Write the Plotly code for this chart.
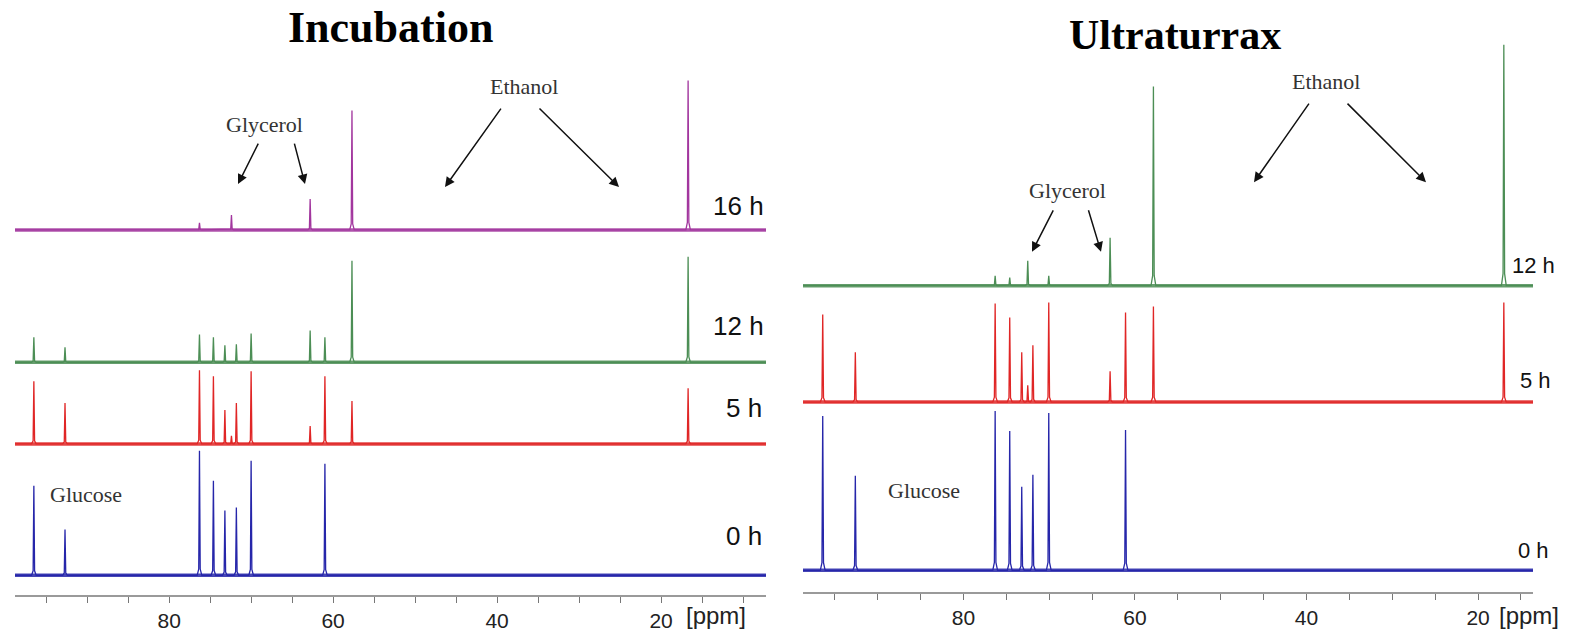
import plotly.graph_objects as go

# ---------------- data ----------------
# chemical shifts of the resolved peaks, ppm
left_ppm = [96.5, 92.7, 76.3, 74.6, 73.2, 72.4, 71.8, 70.0, 62.8, 61.0, 57.7, 16.7]
right_ppm = [96.4, 92.6, 76.3, 74.6, 73.2, 72.5, 71.9, 70.05, 62.9, 61.1, 57.85, 17.0]

# peak heights (arbitrary intensity units) for each spectrum
inc_0h = [90, 46, 125, 95, 65, 0, 68, 115, 0, 112, 0, 0]
inc_5h = [63, 41, 74, 68, 34, 8, 41, 73, 18, 68, 43, 56]
inc_12h = [25, 15, 28, 25, 17, 0, 18, 29, 32, 25, 102, 106]
inc_16h = [0, 0, 7, 0, 0, 15, 0, 0, 31, 0, 120, 150]

ult_0h = [155, 95, 160, 140, 84, 0, 96, 158, 0, 141, 0, 0]
ult_5h = [88, 50, 99, 85, 50, 17, 57, 100, 31, 90, 96, 100]
ult_12h = [0, 0, 10, 8, 0, 25, 0, 10, 48, 0, 200, 242]

time_labels_left = ["0 h", "5 h", "12 h", "16 h"]
time_labels_right = ["0 h", "5 h", "12 h"]
tick_values = [80, 60, 40, 20]
tick_labels = ["80", "60", "40", "20"]

# ---------------- styling / layout constants ----------------
W, H = 1575, 632
COL = {"0 h": "#2626aa", "5 h": "#e02626", "12 h": "#4c8e55", "16 h": "#a2369e"}
left_offsets = {"0 h": 20, "5 h": 152, "12 h": 234, "16 h": 367}
right_offsets = {"0 h": 22, "5 h": 191, "12 h": 308}
left_range = [98.8, 7.2]
right_range = [98.7, 13.6]
# spike drawing style: (ppm offset, fraction of peak height)
SPIKE_SHAPE = [(0.28, 0.0), (0.09, 0.05), (0.0, 1.0), (-0.09, 0.05), (-0.28, 0.0)]


def spectrum(ppm, heights, base, xr):
    pk = sorted([(p, h) for p, h in zip(ppm, heights) if h > 0], reverse=True)
    xs, ys = [xr[0]], [base]
    for p, h in pk:
        for dx, f in SPIKE_SHAPE:
            xs.append(p + dx)
            ys.append(base + f * h)
    xs.append(xr[1])
    ys.append(base)
    return xs, ys


fig = go.Figure()

left_sets = {"0 h": inc_0h, "5 h": inc_5h, "12 h": inc_12h, "16 h": inc_16h}
right_sets = {"0 h": ult_0h, "5 h": ult_5h, "12 h": ult_12h}

for lab, hs in left_sets.items():
    b = left_offsets[lab]
    fig.add_trace(go.Scatter(x=list(left_range), y=[b, b], mode="lines",
                             line=dict(color=COL[lab], width=3.5), opacity=0.85,
                             xaxis="x", yaxis="y", hoverinfo="skip"))
    xs, ys = spectrum(left_ppm, hs, b, left_range)
    fig.add_trace(go.Scatter(x=xs, y=ys, mode="lines",
                             line=dict(color=COL[lab], width=1.3),
                             xaxis="x", yaxis="y", name=lab))

for lab, hs in right_sets.items():
    b = right_offsets[lab]
    fig.add_trace(go.Scatter(x=list(right_range), y=[b, b], mode="lines",
                             line=dict(color=COL[lab], width=3.5), opacity=0.85,
                             xaxis="x2", yaxis="y2", hoverinfo="skip"))
    xs, ys = spectrum(right_ppm, hs, b, right_range)
    fig.add_trace(go.Scatter(x=xs, y=ys, mode="lines",
                             line=dict(color=COL[lab], width=1.3),
                             xaxis="x2", yaxis="y2", name=lab))

axis_common = dict(
    tickmode="array", tickvals=tick_values, ticktext=tick_labels,
    ticks="outside", ticklen=6, tickwidth=1.2, tickcolor="#777",
    showline=True, linecolor="#9a9a9a", linewidth=2,
    showgrid=False, zeroline=False, fixedrange=True,
    tickfont=dict(family="Liberation Sans, Arial", size=21, color="#222"),
    minor=dict(dtick=5, tick0=0, ticks="outside", ticklen=6, tickwidth=1.2,
               tickcolor="#777", showgrid=False),
)

fig.update_layout(
    width=W, height=H, margin=dict(l=0, r=0, t=0, b=0),
    paper_bgcolor="white", plot_bgcolor="white", showlegend=False,
    xaxis=dict(domain=[15 / W, 766 / W], range=left_range, anchor="y", **axis_common),
    xaxis2=dict(domain=[803 / W, 1533 / W], range=right_range, anchor="y2", **axis_common),
    yaxis=dict(domain=[(H - 598) / H, 1], range=[0, 598], visible=False, fixedrange=True),
    yaxis2=dict(domain=[(H - 595) / H, 1], range=[0, 595], visible=False, fixedrange=True),
)


def px(x):
    return x / W


def py(y):
    return 1 - y / H


def label(text, x, y, font, xanchor="center"):
    return dict(text=text, x=px(x), y=py(y), xref="paper", yref="paper",
                xanchor=xanchor, yanchor="middle", showarrow=False, font=font)


ann = []
# titles
ann.append(label("<b>Incubation</b>", 390, 28,
                 dict(family="Liberation Serif", size=44, color="black")))
ann.append(label("<b>Ultraturrax</b>", 1175, 35,
                 dict(family="Liberation Serif", size=42, color="black")))

serif = dict(family="Liberation Serif", size=22, color="#333")
for t, x, y in [("Glycerol", 264, 125), ("Ethanol", 524, 87), ("Glucose", 86, 497),
                ("Glycerol", 1067, 191), ("Ethanol", 1326, 82), ("Glucose", 924, 493)]:
    ann.append(label(t, x, y, serif))

arrows = [((259, 143), (238, 185)), ((294, 143), (305, 185)),
          ((502, 108), (445, 188)), ((538, 108), (619, 188)),
          ((1054, 210), (1032, 253)), ((1088, 210), (1101, 253)),
          ((1310, 103), (1254, 183)), ((1346, 103), (1426, 183))]
for (x0, y0), (x1, y1) in arrows:
    ann.append(dict(text="", x=px(x1), y=py(y1), xref="paper", yref="paper",
                    ax=x0 - x1, ay=y0 - y1, showarrow=True, arrowhead=2,
                    arrowsize=1.3, arrowwidth=1.5, arrowcolor="#111", standoff=0))

sans = dict(family="Liberation Sans, Arial", size=26, color="#111")
left_lab_pos = {"16 h": (738, 207), "12 h": (738, 328), "5 h": (744, 410), "0 h": (744, 539)}
for lab in time_labels_left:
    x, y = left_lab_pos[lab]
    ann.append(label(lab, x, y, sans))
sans2 = dict(family="Liberation Sans, Arial", size=22, color="#111")
right_lab_pos = {"12 h": (1533, 267), "5 h": (1535, 382), "0 h": (1533, 553)}
for lab in time_labels_right:
    x, y = right_lab_pos[lab]
    ann.append(label(lab, x, y, sans2))

for x in (684, 1497):
    ann.append(label("[ppm]", x, 618,
                     dict(family="Liberation Sans, Arial", size=24, color="#222"),
                     xanchor="left"))

fig.update_layout(annotations=ann)

fig.write_html("out.html", config={"displayModeBar": False},
               post_script="document.body.style.margin='0';")
